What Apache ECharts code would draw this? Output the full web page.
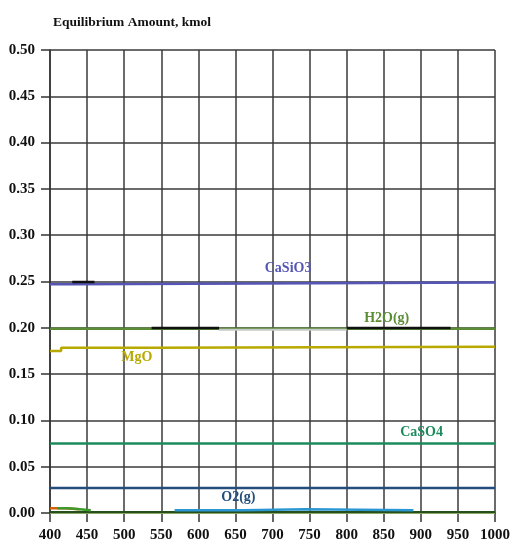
<!DOCTYPE html>
<html>
<head>
<meta charset="utf-8">
<script src="https://cdn.jsdelivr.net/npm/echarts@6/dist/echarts.min.js"></script>
<style>
  html, body { margin: 0; padding: 0; background: #fff; }
  #chart { width: 513px; height: 549px; }
</style>
</head>
<body>
<div id="chart"></div>
<script>
// Temperature axis ticks (°C) and amount axis ticks (kmol)
const tempTicks = [400, 450, 500, 550, 600, 650, 700, 750, 800, 850, 900, 950, 1000];
const amountTicks = [0, 0.05, 0.10, 0.15, 0.20, 0.25, 0.30, 0.35, 0.40, 0.45, 0.50];

// Equilibrium amounts: [temperature, kmol]
const caSiO3 = [[400, 0.247], [430, 0.247], [430, 0.249], [1000, 0.249]];
const h2oGas = [[400, 0.199], [1000, 0.199]];
const mgO = [[400, 0.175], [415, 0.175], [415, 0.1785], [540, 0.1785], [540, 0.1795], [1000, 0.1795]];
const caSO4 = [[400, 0.075], [1000, 0.075]];
const o2Gas = [[400, 0.027], [1000, 0.027]];
const darkSpecies = [[430, 0.2495], [460, 0.2495], [460, null], [537, 0.1997], [628, 0.1997], [628, null], [800, 0.1997], [940, 0.1997]];
const greySpecies = [[628, 0.198], [800, 0.198]];
const blueTrace = [[568, 0.003], [660, 0.003], [660, 0.004], [745, 0.004], [745, 0.003], [890, 0.003]];
const orangeTrace = [[400, 0.005], [420, 0.005], [420, 0.004], [440, 0.004]];
const greenTrace = [[410, 0.005], [425, 0.005], [425, 0.003], [455, 0.003]];
const baseTrace = [[400, 0.001], [1000, 0.001]];
const paleTrace = [[400, 0.0003], [1000, 0.0003]];

const serif = '"Liberation Serif", "Times New Roman", serif';

function lineSeries(name, data, color, width, z, label) {
  const s = {
    name: name,
    type: 'line',
    data: data,
    showSymbol: false,
    smooth: false,
    connectNulls: false,
    lineStyle: { color: color, width: width },
    itemStyle: { color: color },
    z: z,
    animation: false
  };
  if (label) {
    s.markPoint = {
      symbol: 'circle',
      symbolSize: 0,
      silent: true,
      data: [{
        coord: label.coord,
        label: {
          show: true,
          formatter: name,
          position: 'inside',
          color: color,
          fontFamily: serif,
          fontWeight: 'bold',
          fontSize: 14
        }
      }]
    };
  }
  return s;
}

const chart = echarts.init(document.getElementById('chart'));
chart.setOption({
  backgroundColor: '#ffffff',
  animation: false,
  title: {
    text: 'Equilibrium Amount, kmol',
    left: 48,
    top: 11,
    textStyle: { fontFamily: serif, fontWeight: 'bold', fontSize: 13.5, color: '#111' }
  },
  grid: { left: 50, right: 16, top: 50, bottom: 36, containLabel: false },
  xAxis: {
    type: 'value',
    min: tempTicks[0],
    max: tempTicks[tempTicks.length - 1],
    interval: 50,
    axisLine: { show: true, onZero: false, lineStyle: { color: '#333', width: 1.5 } },
    axisTick: { show: true, length: 9, lineStyle: { color: '#333', width: 1.5 } },
    axisLabel: {
      margin: 15, fontFamily: serif, fontWeight: 'bold', fontSize: 15, color: '#111',
      formatter: v => String(v)
    },
    splitLine: { show: true, lineStyle: { color: '#3a3a3a', width: 1.5 } }
  },
  yAxis: {
    type: 'value',
    min: amountTicks[0],
    max: amountTicks[amountTicks.length - 1],
    interval: 0.05,
    axisLine: { show: true, lineStyle: { color: '#333', width: 1.5 } },
    axisTick: { show: true, length: 9, lineStyle: { color: '#333', width: 1.5 } },
    axisLabel: {
      margin: 15, fontFamily: serif, fontWeight: 'bold', fontSize: 15, color: '#111',
      formatter: v => v.toFixed(2)
    },
    splitLine: { show: true, lineStyle: { color: '#3a3a3a', width: 1.5 } }
  },
  series: [
    lineSeries('CaSiO3', caSiO3, '#5555b5', 2.5, 5, { coord: [721, 0.2646] }),
    lineSeries('H2O(g)', h2oGas, '#5b8c36', 2.5, 5, { coord: [854, 0.2106] }),
    lineSeries('MgO', mgO, '#b8a900', 2.5, 5, { coord: [517, 0.1685] }),
    lineSeries('CaSO4', caSO4, '#1d8a5c', 2.5, 5, { coord: [901, 0.0875] }),
    lineSeries('O2(g)', o2Gas, '#234d7c', 2.5, 5, { coord: [654, 0.0173] }),
    lineSeries('dark', darkSpecies, '#111111', 2.5, 6),
    lineSeries('grey', greySpecies, '#c8c8c8', 2, 6),
    lineSeries('pale', paleTrace, '#a8c878', 2, 5),
    lineSeries('base', baseTrace, '#25501c', 2, 6),
    lineSeries('blue', blueTrace, '#2b97d2', 2.5, 7),
    lineSeries('orange', orangeTrace, '#d0640c', 2.5, 7),
    lineSeries('green', greenTrace, '#3e9a2c', 2.5, 8)
  ]
});
</script>
</body>
</html>
